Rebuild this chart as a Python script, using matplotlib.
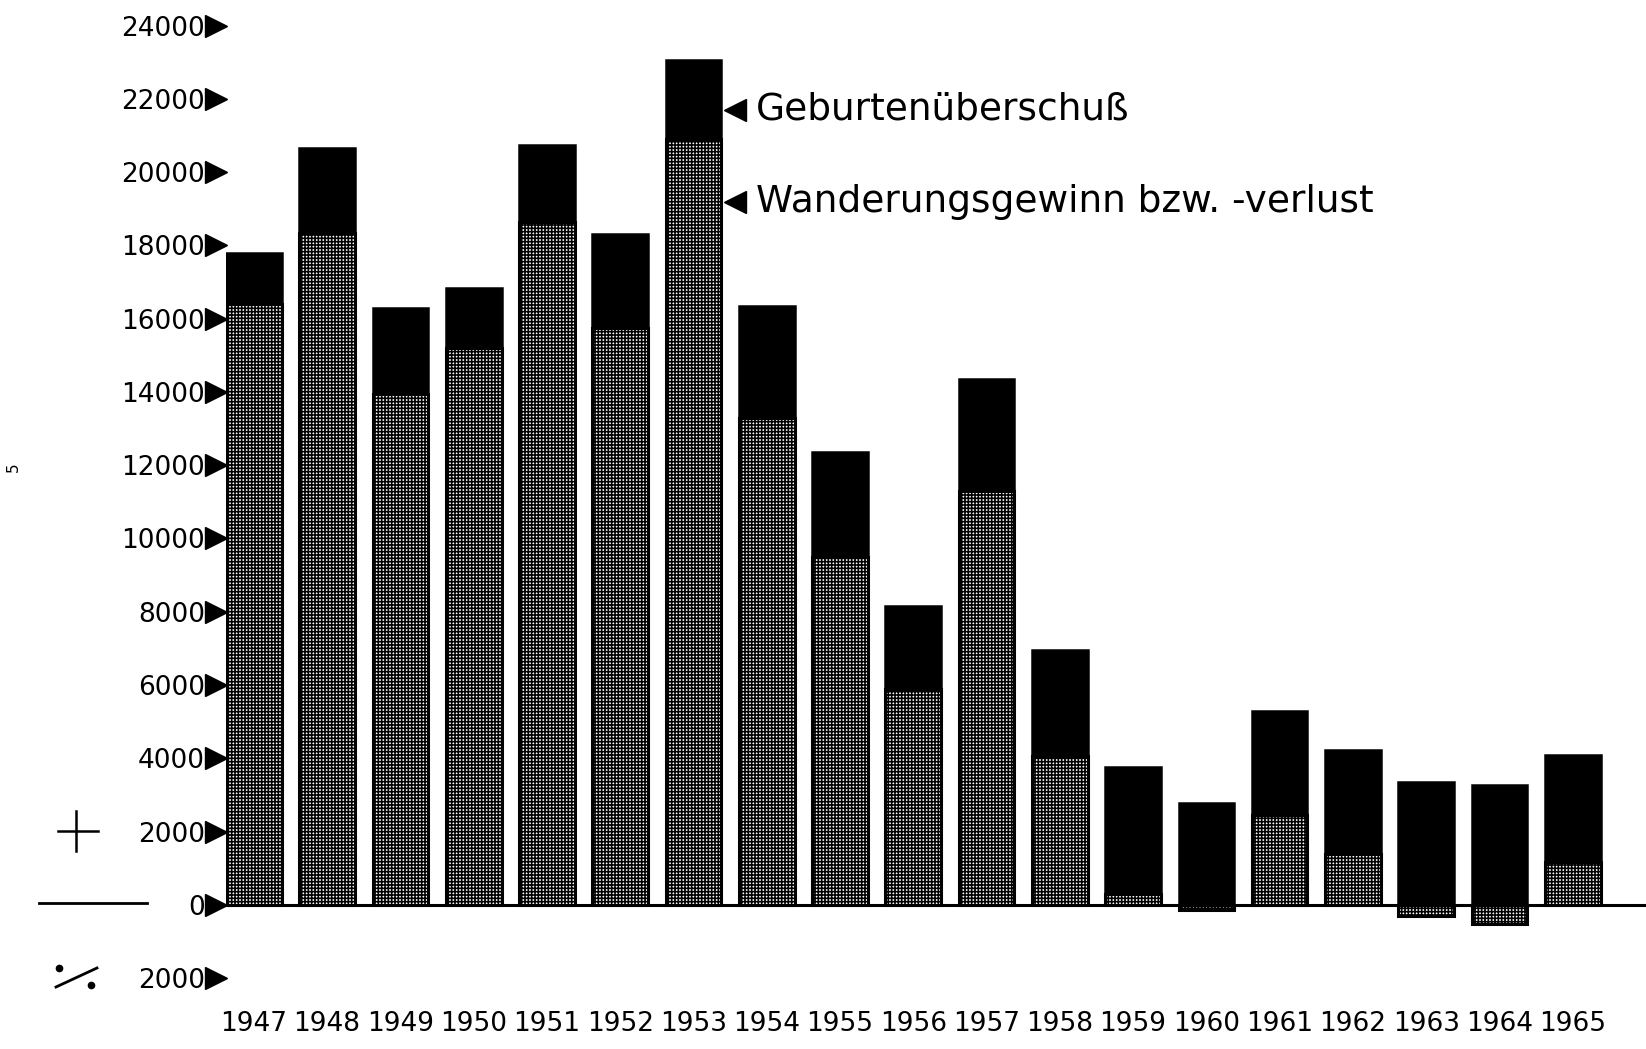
import matplotlib.pyplot as plt
from matplotlib.lines import Line2D
import numpy as np

# Bevölkerungsentwicklung 1947-1965
years = [1947, 1948, 1949, 1950, 1951, 1952, 1953, 1954, 1955, 1956,
         1957, 1958, 1959, 1960, 1961, 1962, 1963, 1964, 1965]
wanderung = [16400, 18350, 13950, 15200, 18650, 15750, 20900, 13300, 9500, 5900,
             11300, 4050, 300, -150, 2450, 1380, -320, -520, 1160]
geburten = [1400, 2300, 2350, 1650, 2100, 2550, 2150, 3050, 2850, 2250,
            3050, 2900, 3450, 2780, 2850, 2840, 3360, 3280, 2920]
ytick_vals = list(range(-2000, 24001, 2000))
ytick_labels = ['2000', '0'] + [str(v) for v in range(2000, 24001, 2000)]
label_geb = 'Geburtenüberschuß'
label_wan = 'Wanderungsgewinn bzw. -verlust'

plt.rcParams['hatch.color'] = 'black'
plt.rcParams['hatch.linewidth'] = 1.15

W, H = 1646, 1049
fig = plt.figure(figsize=(W / 100, H / 100), dpi=100)
ax = fig.add_axes([226 / W, 49 / H, 1 - 226 / W, 1 - 49 / H])

x = np.arange(len(years))
wan = np.array(wanderung)
geb = np.array(geburten)

ax.bar(x, wan, width=0.76, color='white', hatch='+++++',
       edgecolor='black', linewidth=2.2, zorder=2)
ax.bar(x, geb, width=0.76, bottom=np.maximum(wan, 0), color='black',
       edgecolor='black', linewidth=1.8, zorder=2)

ax.axhline(0, color='black', lw=2.2, zorder=3)

ax.set_xlim(-0.38, 19.0)
ax.set_ylim(-2600, 24700)
for s in ax.spines.values():
    s.set_visible(False)

ax.set_xticks(x)
ax.set_xticklabels([str(y) for y in years], fontsize=19)
ax.set_yticks(ytick_vals)
ax.set_yticklabels(ytick_labels, fontsize=19)
ax.tick_params(axis='y', length=0, pad=15)
ax.tick_params(axis='x', length=0, pad=8)

# Pfeile an der Achse
ax.plot(np.full(len(ytick_vals), -0.007), ytick_vals, linestyle='none',
        marker='>', ms=16, color='black',
        transform=ax.get_yaxis_transform(), clip_on=False)

# Beschriftung der Segmente
ax.plot([6.57, 6.57], [21700, 19180], linestyle='none', marker='<',
        ms=16, color='black', clip_on=False)
ax.text(6.855, 21700, label_geb, fontsize=27, va='center', ha='left')
ax.text(6.855, 19180, label_wan, fontsize=27, va='center', ha='left')

# Vorzeichen links
def fl(x0, y0, x1, y1, lw=1.8, **kw):
    fig.add_artist(Line2D([x0 / W, x1 / W], [1 - y0 / H, 1 - y1 / H],
                          color='black', lw=lw, **kw))

fl(58, 831, 98, 831)
fl(75.6, 811, 75.6, 851)
fl(39, 903, 147, 903, lw=2)
# Minuszeichen ./.
fl(56, 987, 97, 968, lw=2)
fl(59.3, 968.3, 90.7, 985, lw=0, linestyle='none', marker='o', ms=4.5)
fig.text(13 / W, 1 - 467 / H, '5', fontsize=11, rotation=90,
         ha='center', va='center')

fig.savefig('out.png', dpi=100)
